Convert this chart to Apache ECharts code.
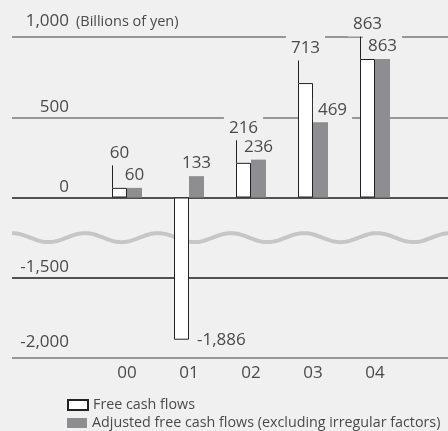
<!DOCTYPE html>
<html>
<head>
<meta charset="utf-8">
<script src="https://cdn.jsdelivr.net/npm/echarts@6/dist/echarts.min.js"></script>
<style>
  html, body { margin: 0; padding: 0; background: #f0f0f0; }
  #chart { width: 448px; height: 431px; }
</style>
</head>
<body>
<div id="chart"></div>
<script>
// Fiscal years on the category axis
const years = ['00', '01', '02', '03', '04'];
// Free cash flows (billions of yen)
const freeCashFlows = [60, -1886, 216, 713, 863];
// Adjusted free cash flows, excluding irregular factors (billions of yen)
const adjustedFreeCashFlows = [60, 133, 236, 469, 863];
// Value axis range and the skipped stretch between -1,500 and 0
const yMin = -2000;
const yMax = 1000;
const yStep = 500;
const axisBreak = { start: -1500, end: 0, gap: 500 };

const BG = '#f0f0f0';
const TEXT = '#4a4a4a';
const FONT = '"Open Sans", "Noto Sans", sans-serif';
const BAR_W = 15;
const SERIES_A = 'Free cash flows';
const SERIES_B = 'Adjusted free cash flows (excluding irregular factors)';

const fmt = v => Number(v).toLocaleString('en-US');

const yAxisBase = {
  type: 'value',
  min: yMin,
  max: yMax,
  interval: yStep,
  breaks: [{ start: axisBreak.start, end: axisBreak.end, gap: axisBreak.gap }],
  breakArea: { show: false },
};

// Leader line, dot and value for the free cash flow bars
function renderLeader(params, api) {
  const cat = api.value(0);
  const v = api.value(1);
  const top = api.coord([cat, v]);
  const x = Math.round(top[0] - BAR_W) + 0.5;
  const txt = fmt(v);
  const textStyle = { text: txt, fill: TEXT, fontSize: 17, fontFamily: FONT };
  if (v >= 0) {
    const dotY = top[1] - 25;
    return {
      type: 'group',
      children: [
        { type: 'line', shape: { x1: x, y1: top[1], x2: x, y2: dotY },
          style: { stroke: '#222', lineWidth: 1 } },
        { type: 'circle', shape: { cx: x, cy: dotY, r: 2.2 }, style: { fill: '#222' } },
        { type: 'text', x: x + 7, y: dotY - 10,
          style: Object.assign({ align: 'center', verticalAlign: 'middle',
            backgroundColor: BG, padding: [4, 5] }, textStyle) }
      ]
    };
  }
  return {
    type: 'text', x: top[0] + 8, y: top[1],
    style: Object.assign({ align: 'left', verticalAlign: 'middle' }, textStyle)
  };
}

// Wavy line marking the axis break
function renderWave(params, api) {
  const cs = params.coordSys;
  const yTop = api.coord([0, axisBreak.end])[1];
  const yBot = api.coord([0, axisBreak.start])[1];
  const mid = (yTop + yBot) / 2;
  const pts = [];
  for (let x = cs.x; x <= cs.x + cs.width + 1; x += 1.5) {
    pts.push([x, mid - 4.5 * Math.cos(2 * Math.PI * (x - cs.x) / 73)]);
  }
  return {
    type: 'polyline', silent: true,
    shape: { points: pts },
    style: { stroke: '#c6c6c6', lineWidth: 4, fill: null }
  };
}

const legendBase = {
  orient: 'vertical',
  left: 67,
  padding: 0,
  itemWidth: 20,
  itemHeight: 10,
  itemGap: 4,
  icon: 'rect',
  textStyle: { fontSize: 14.3, color: TEXT, fontFamily: FONT }
};

const chart = echarts.init(document.getElementById('chart'), null, { renderer: 'canvas' });

chart.setOption({
  backgroundColor: BG,
  animation: false,
  textStyle: { fontFamily: FONT, color: TEXT },
  grid: [
    { left: 12, right: 0, top: 37, bottom: 73 },
    { left: 96, right: 42, top: 37, bottom: 73 }
  ],
  legend: [
    Object.assign({}, legendBase, { top: 398, data: [SERIES_A] }),
    Object.assign({}, legendBase, { top: 416, data: [SERIES_B] })
  ],
  xAxis: [
    { gridIndex: 0, type: 'value', min: 0, max: 1, show: false },
    {
      gridIndex: 1, type: 'category', data: years,
      axisLine: { show: false, onZero: false },
      axisTick: { show: false },
      axisLabel: { fontSize: 17, color: TEXT, margin: 7 }
    }
  ],
  yAxis: [
    Object.assign({}, yAxisBase, {
      gridIndex: 0,
      name: '(Billions of yen)',
      nameLocation: 'end',
      nameGap: 15,
      nameTextStyle: { fontSize: 14.5, color: TEXT, align: 'left', verticalAlign: 'middle', padding: [0, 0, 0, 64] },
      axisLine: { show: false },
      axisTick: { show: false },
      axisLabel: {
        inside: true,
        margin: 57,
        align: 'right',
        verticalAlign: 'bottom',
        fontSize: 17,
        color: TEXT,
        formatter: v => (v === yMax || v === yMin) ? '{lift|' + fmt(v) + '}' : '{base|' + fmt(v) + '}',
        rich: {
          base: { fontSize: 17, color: TEXT, padding: [0, 0, 2, 0] },
          lift: { fontSize: 17, color: TEXT, padding: [0, 0, 7, 0] }
        }
      },
      splitLine: {
        show: true,
        lineStyle: { color: '#7a7a7a', width: 1.5 }
      }
    }),
    Object.assign({}, yAxisBase, {
      gridIndex: 1,
      show: false,
      splitLine: { show: false }
    })
  ],
  series: [
    {
      type: 'custom', name: 'break', xAxisIndex: 0, yAxisIndex: 0, z: 1,
      silent: true, renderItem: renderWave, data: [[0.5, 0]],
      markLine: {
        z: 1,
        silent: true,
        symbol: 'none',
        label: { show: false },
        lineStyle: { color: '#1e1e1e', width: 1.5, type: 'solid' },
        data: [{ yAxis: axisBreak.end }, { yAxis: axisBreak.start }]
      }
    },
    {
      name: SERIES_A, type: 'bar', xAxisIndex: 1, yAxisIndex: 1,
      data: freeCashFlows, barWidth: BAR_W, barGap: '0%', z: 3,
      itemStyle: { color: '#ffffff', borderColor: '#222', borderWidth: 1 }
    },
    {
      name: SERIES_B, type: 'bar',
      xAxisIndex: 1, yAxisIndex: 1, z: 3,
      data: adjustedFreeCashFlows.map((v, i) => ({
        value: v,
        label: i === 3 ? { offset: [12, 0] } : {}
      })),
      barWidth: BAR_W,
      itemStyle: { color: '#8e8e90' },
      label: {
        show: true, position: 'top', distance: 2,
        fontSize: 17, color: TEXT, fontFamily: FONT,
        backgroundColor: BG, padding: [4, 5, 2, 5],
        formatter: p => fmt(p.value)
      }
    },
    {
      type: 'custom', name: 'leaders', xAxisIndex: 1, yAxisIndex: 1, z: 4,
      silent: true, renderItem: renderLeader,
      data: freeCashFlows.map((v, i) => [i, v])
    }
  ]
});
</script>
</body>
</html>
